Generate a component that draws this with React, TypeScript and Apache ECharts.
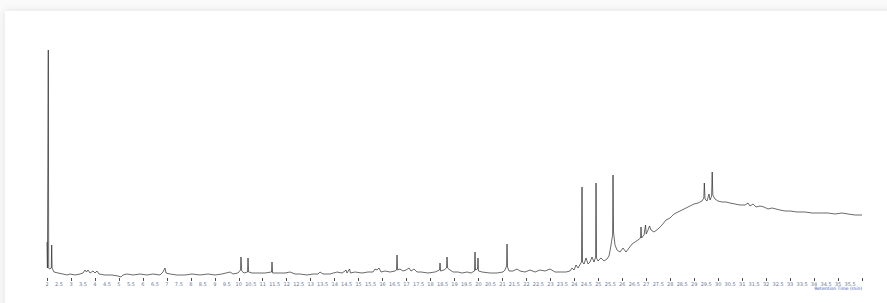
import React, { useEffect, useRef } from "react";
import * as echarts from "echarts";

// Retention time (min) of each sampled point of the chromatogram trace
const retentionTime = [
  2.000, 2.017, 2.042, 2.054, 2.071, 2.104, 2.179, 2.196, 2.213, 2.292,
  2.459, 2.668, 2.834, 2.960, 3.168, 3.377, 3.502, 3.585, 3.648, 3.710,
  3.794, 3.919, 4.003, 4.086, 4.169, 4.420, 4.712, 4.962, 5.087, 5.171,
  5.338, 5.588, 5.880, 6.172, 6.422, 6.714, 6.839, 6.923, 6.965, 7.131,
  7.423, 7.757, 8.049, 8.383, 8.717, 9.009, 9.301, 9.635, 9.760, 9.968,
  10.073, 10.093, 10.123, 10.219, 10.365, 10.386, 10.411, 10.552, 10.803, 11.095,
  11.366, 11.387, 11.412, 11.637, 11.929, 12.138, 12.346, 12.555, 12.847, 13.097,
  13.306, 13.389, 13.514, 13.806, 14.099, 14.307, 14.432, 14.474, 14.516, 14.620,
  14.662, 14.849, 15.141, 15.392, 15.600, 15.684, 15.767, 15.851, 15.934, 16.101,
  16.310, 16.518, 16.581, 16.602, 16.627, 16.727, 16.852, 16.977, 17.102, 17.186,
  17.311, 17.436, 17.603, 17.895, 18.187, 18.375, 18.396, 18.421, 18.562, 18.667,
  18.688, 18.713, 18.813, 18.938, 19.147, 19.313, 19.522, 19.689, 19.835, 19.856,
  19.877, 19.960, 19.981, 20.002, 20.148, 20.482, 20.774, 21.024, 21.107, 21.174,
  21.191, 21.212, 21.274, 21.441, 21.608, 21.733, 21.942, 22.150, 22.359, 22.567,
  22.776, 22.985, 23.193, 23.402, 23.652, 23.819, 23.902, 23.986, 24.069, 24.153,
  24.299, 24.320, 24.340, 24.403, 24.487, 24.570, 24.653, 24.737, 24.820, 24.887,
  24.904, 24.925, 24.987, 25.112, 25.237, 25.363, 25.446, 25.509, 25.596, 25.613,
  25.634, 25.696, 25.780, 25.905, 26.030, 26.155, 26.280, 26.406, 26.531, 26.656,
  26.760, 26.781, 26.806, 26.906, 26.969, 26.998, 27.073, 27.136, 27.198, 27.323,
  27.490, 27.657, 27.824, 27.991, 28.158, 28.325, 28.492, 28.659, 28.825, 28.992,
  29.159, 29.326, 29.401, 29.422, 29.451, 29.535, 29.618, 29.660, 29.726, 29.751,
  29.776, 29.868, 29.993, 30.160, 30.327, 30.494, 30.703, 30.911, 31.120, 31.245,
  31.329, 31.454, 31.579, 31.746, 31.913, 32.079, 32.246, 32.413, 32.580, 32.789,
  32.997, 33.289, 33.623, 33.915, 34.249, 34.583, 34.875, 35.167, 35.417, 35.709,
  36.000,
];

// Detector signal at each retention time
const intensity = [
  34, 8, 8, 226, 8, 7, 8, 31, 8, 4,
  3, 2, 1, 2, 1, 2, 3, 6, 4, 6,
  3, 5, 3, 5, 2, 1, 1, 0, -1, 1,
  2, 1, 2, 1, 2, 1, 4, 8, 3, 2,
  1, 1, 2, 1, 2, 1, 2, 4, 2, 3,
  6, 19, 5, 3, 4, 18, 4, 3, 3, 3,
  4, 14, 3, 3, 3, 4, 2, 2, 1, 2,
  2, 4, 2, 2, 4, 3, 5, 6, 3, 7,
  3, 4, 3, 4, 4, 7, 6, 8, 4, 5,
  4, 5, 6, 21, 6, 7, 5, 6, 8, 5,
  7, 4, 4, 3, 4, 6, 13, 5, 6, 8,
  19, 8, 6, 4, 4, 3, 4, 3, 5, 24,
  6, 7, 18, 5, 4, 3, 3, 4, 6, 10,
  32, 9, 5, 5, 7, 5, 4, 6, 4, 6,
  5, 7, 4, 4, 4, 5, 8, 6, 11, 8,
  14, 89, 14, 12, 18, 12, 14, 19, 14, 19,
  93, 18, 15, 18, 15, 17, 20, 28, 41, 101,
  44, 31, 26, 24, 28, 24, 28, 32, 34, 36,
  38, 49, 38, 41, 51, 42, 46, 50, 46, 44,
  47, 51, 56, 58, 62, 64, 66, 68, 70, 72,
  73, 75, 78, 93, 77, 75, 82, 76, 80, 104,
  81, 77, 75, 74, 74, 73, 72, 71, 71, 73,
  70, 72, 69, 70, 69, 67, 68, 67, 66, 65,
  65, 64, 64, 63, 63, 63, 62, 63, 62, 61,
  61,
];

const tickMinutes = { min: 2, max: 36, labelStep: 0.5, tickStep: 1 };
const axisTitle = "Retention Time (min)";

export default function App() {
  const ref = useRef<HTMLDivElement>(null);

  useEffect(() => {
    if (!ref.current) return;
    const chart = echarts.init(ref.current, undefined, { renderer: "svg" });
    const points = retentionTime.map((t, i) => [t, intensity[i]]);
    chart.setOption({
      animation: false,
      backgroundColor: "transparent",
      grid: { left: 47, right: 25, top: 50, bottom: 25 },
      xAxis: [
        {
          type: "value",
          min: tickMinutes.min,
          max: tickMinutes.max,
          interval: tickMinutes.labelStep,
          axisLine: { show: false },
          axisTick: { show: false },
          splitLine: { show: false },
          axisLabel: {
            show: true,
            fontSize: 5,
            color: "#6b7a99",
            margin: 3,
            showMaxLabel: false,
            fontFamily: "DejaVu Sans",
          },
        },
        {
          type: "value",
          min: tickMinutes.min,
          max: tickMinutes.max,
          interval: tickMinutes.tickStep,
          position: "bottom",
          axisLine: { show: false },
          axisTick: { show: true, length: 3, lineStyle: { color: "#222", width: 0.8 } },
          splitLine: { show: false },
          axisLabel: { show: false },
        },
      ],
      yAxis: {
        type: "value",
        min: -2,
        max: 226,
        show: false,
        splitLine: { show: false },
      },
      series: [
        {
          type: "line",
          data: points,
          xAxisIndex: 0,
          showSymbol: false,
          symbol: "none",
          lineStyle: { color: "#1a1a1a", width: 0.65 },
        },
      ],
      graphic: [
        {
          type: "text",
          right: 25,
          top: 286,
          style: {
            text: axisTitle,
            fontSize: 4.5,
            fill: "#3a5cc4",
            fontFamily: "DejaVu Sans",
          },
        },
      ],
    });
    return () => chart.dispose();
  }, []);

  return (
    <div
      style={{
        position: "fixed",
        left: 0,
        top: 0,
        width: 887,
        height: 303,
        overflow: "hidden",
        background: "#fafafa",
      }}
    >
      <div
        style={{
          position: "absolute",
          left: 5,
          top: 11,
          width: 900,
          height: 320,
          background: "#fff",
          boxShadow: "0 0 8px rgba(0,0,0,0.10)",
        }}
      />
      <div ref={ref} style={{ position: "absolute", left: 0, top: 0, width: 887, height: 303 }} />
    </div>
  );
}
